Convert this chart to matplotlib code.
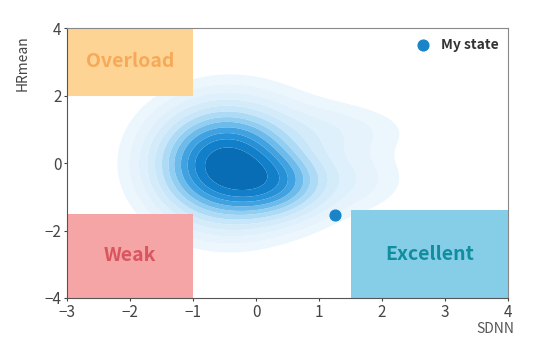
import matplotlib.pyplot as plt
import numpy as np
from matplotlib.colors import LinearSegmentedColormap
from matplotlib.patches import Rectangle

plt.rcParams["font.family"] = ["Noto Sans CJK KR", "DejaVu Sans"]

# zones (x0, y0, width, height)
zone_names = ["Overload", "Weak", "Excellent"]
zone_x = [-3.0, -3.0, 1.5]
zone_y = [2.0, -4.0, -4.0]
zone_w = [2.0, 2.0, 2.5]
zone_h = [2.0, 2.5, 2.6]
zone_fill = ["#fdd494", "#f5a5a5", "#86cde8"]
zone_text = ["#f7a95a", "#d95560", "#108e9e"]

# my state point
state_x = [1.25]
state_y = [-1.55]

# density blob components: centre, spread, weight
blob_cx = [-0.5, 0.25, 1.1, 1.4, -0.2]
blob_cy = [-0.05, -0.6, 0.95, -0.5, 0.1]
blob_sx = [0.58, 0.5, 0.8, 0.6, 0.95]
blob_sy = [0.9, 0.6, 0.5, 0.6, 1.25]
blob_wt = [1.0, 0.45, 0.06, 0.06, 0.1]

fig = plt.figure(figsize=(5.38, 3.56), dpi=100)
ax = fig.add_axes([0.1245, 0.163, 0.82, 0.758])

gx, gy = np.meshgrid(np.linspace(-3, 4, 300), np.linspace(-4, 4, 300))
dens = np.zeros_like(gx)
for cx, cy, sx, sy, w in zip(blob_cx, blob_cy, blob_sx, blob_sy, blob_wt):
    dens += w * np.exp(-0.5 * (((gx - cx) / sx) ** 2 + ((gy - cy) / sy) ** 2))
dens /= dens.max()

cmap = LinearSegmentedColormap.from_list(
    "blob", ["#eef7fd", "#c8e6f9", "#86c9f0", "#3a9fe0", "#1585d0", "#0a72bd", "#0664a8"])
levels = [0.02, 0.04, 0.07, 0.11, 0.16, 0.22, 0.29, 0.36, 0.45, 0.55, 0.66, 0.8, 1.01]
ax.contourf(gx, gy, dens, levels=levels, cmap=cmap, antialiased=True)

for name, x0, y0, w, h, fc, tc in zip(zone_names, zone_x, zone_y, zone_w,
                                       zone_h, zone_fill, zone_text):
    ax.add_patch(Rectangle((x0, y0), w, h, facecolor=fc, edgecolor="none", zorder=2))
    ax.text(x0 + w / 2, y0 + h / 2, name, color=tc, fontsize=14, fontweight="bold",
            ha="center", va="center", zorder=3)

ax.scatter(state_x, state_y, s=60, color="#1a84c9", zorder=4, label="My state")
ax.legend(loc="upper right", frameon=False, handletextpad=0.3,
          prop={"size": 10, "weight": "bold"}, labelcolor="#333333",
          borderaxespad=0.3)

ax.set_xlim(-3, 4)
ax.set_ylim(-4, 4)
ax.set_xticks(range(-3, 5))
ax.set_yticks([-4, -2, 0, 2, 4])
ax.tick_params(length=2, labelsize=11, colors="#444444", pad=2)
for s in ["left", "bottom"]:
    ax.spines[s].set_color("#555555")
for s in ["top", "right"]:
    ax.spines[s].set_color("#888888")
    ax.spines[s].set_linewidth(0.8)

ax.set_xlabel("SDNN", fontsize=10, color="#555555")
ax.xaxis.set_label_coords(0.97, -0.09)
ax.set_ylabel("HRmean", fontsize=10, color="#444444")
ax.yaxis.set_label_coords(-0.085, 0.87)

fig.savefig("out.png", dpi=100)
